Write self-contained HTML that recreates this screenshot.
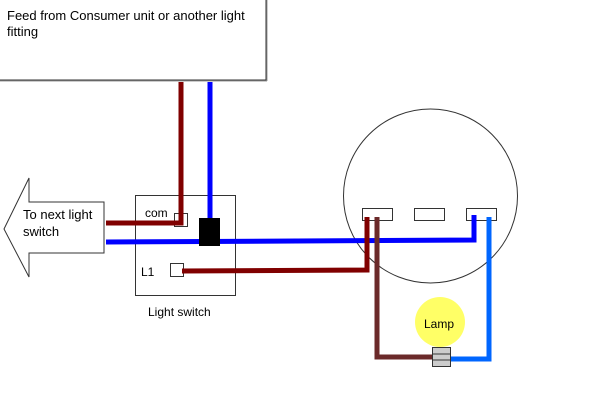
<!DOCTYPE html>
<html><head><style>
html,body{margin:0;padding:0;background:#fff;}
svg{display:block;}
text{font-family:"Liberation Sans",sans-serif;fill:#000;}
</style></head><body>
<svg width="600" height="400" viewBox="0 0 600 400" xmlns="http://www.w3.org/2000/svg">
<rect x="0" y="0" width="600" height="400" fill="#fff"/>
<!-- top box -->
<rect x="-2" y="-2" width="268" height="82" fill="#fff" stroke="#333" stroke-width="1"/>
<line x1="267" y1="0" x2="267" y2="81" stroke="#999" stroke-width="1"/>
<line x1="0" y1="81" x2="267" y2="81" stroke="#999" stroke-width="1"/>
<text x="7" y="20" font-size="13">Feed from Consumer unit or another light</text>
<text x="7" y="36" font-size="13">fitting</text>
<!-- arrow -->
<polygon points="4,229 29,178 29,202 104,202 104,253 29,253 29,277" fill="#fff" stroke="#333" stroke-width="1"/>
<text x="23" y="219" font-size="13">To next light</text>
<text x="23" y="236" font-size="13">switch</text>
<!-- switch box -->
<rect x="135.5" y="195.5" width="100" height="100" fill="#fff" stroke="#333" stroke-width="1"/>
<text x="145" y="217" font-size="12">com</text>
<text x="141" y="276" font-size="12">L1</text>
<text x="148" y="316" font-size="12">Light switch</text>
<rect x="174.5" y="213.5" width="13" height="13" fill="#fff" stroke="#333"/>
<rect x="170.5" y="263.5" width="13" height="13" fill="#fff" stroke="#333"/>
<!-- circle -->
<circle cx="430.5" cy="196" r="87" fill="#fff" stroke="#333" stroke-width="1"/>
<rect x="362.5" y="208.5" width="30" height="12" fill="#fff" stroke="#333"/>
<rect x="414.5" y="208.5" width="30" height="12" fill="#fff" stroke="#333"/>
<rect x="466.5" y="208.5" width="30" height="12" fill="#fff" stroke="#333"/>
<!-- wires -->
<g fill="none" stroke-width="5">
<polyline points="181,82 181,223 106,223" stroke="#800000"/>
<line x1="210" y1="82" x2="210" y2="226" stroke="#0000ff"/>
<polyline points="106,242 474,240 474,215" stroke="#0000ff"/>
<polyline points="182,271 367,270 367,217" stroke="#800000"/>
<polyline points="377,217 377,357 434,357" stroke="#6b2a2a"/>
<polyline points="489,217 489,359 450,359" stroke="#0066ff"/>
</g>
<rect x="199" y="218" width="21" height="28" fill="#000"/>
<!-- lamp -->
<circle cx="440" cy="322" r="25" fill="#ffff66"/>
<text x="424" y="328" font-size="12">Lamp</text>
<rect x="432.5" y="347.5" width="18" height="19" fill="#ccc" stroke="#333"/>
<line x1="432" y1="354" x2="451" y2="354" stroke="#333"/>
<line x1="432" y1="360" x2="451" y2="360" stroke="#333"/>
</svg>
</body></html>
